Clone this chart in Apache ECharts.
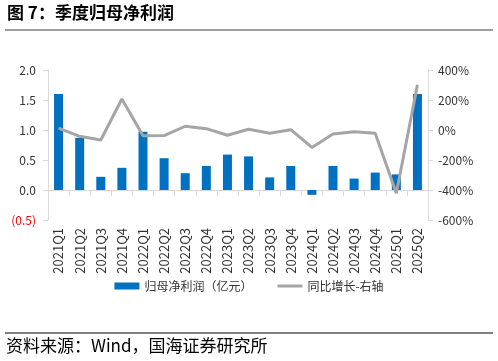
<!DOCTYPE html>
<html>
<head>
<meta charset="utf-8">
<script src="https://cdn.jsdelivr.net/npm/echarts@6/dist/echarts.min.js"></script>
<style>
html,body{margin:0;padding:0;background:#fff;}
#chart{width:498px;height:361px;}
</style>
</head>
<body>
<div id="chart"></div>
<script>
const categories = ['2021Q1','2021Q2','2021Q3','2021Q4','2022Q1','2022Q2','2022Q3','2022Q4','2023Q1','2023Q2','2023Q3','2023Q4','2024Q1','2024Q2','2024Q3','2024Q4','2025Q1','2025Q2'];
const profit = [1.60,0.87,0.22,0.37,0.97,0.53,0.28,0.40,0.59,0.56,0.21,0.40,-0.08,0.40,0.19,0.29,0.26,1.60];
const yoyGrowth = [13,-42,-67,207,-38,-37,25,9,-35,5,-22,2,-116,-27,-11,-22,-422,302];
const leftTicks = {min:-0.5,max:2.0,interval:0.5};
const rightTicks = {min:-600,max:400,interval:200};
const seriesNames = ['归母净利润（亿元）','同比增长-右轴'];

const FONT = '"Noto Sans CJK SC","Noto Sans",sans-serif';
const chart = echarts.init(document.getElementById('chart'));
chart.setOption({
  animation:false,
  textStyle:{fontFamily:FONT},
  grid:{left:48,right:70,top:70,bottom:141,containLabel:false},
  graphic:[
    {type:'text',left:7,top:4,style:{text:'图 7：季度归母净利润',font:'bold 17px '+FONT,fill:'#000'}},
    {type:'line',shape:{x1:5,y1:30,x2:493,y2:30},style:{stroke:'#7f7f7f',lineWidth:1.5}},
    {type:'line',shape:{x1:5,y1:333,x2:493,y2:333},style:{stroke:'#000',lineWidth:1}},
    {type:'text',left:6,top:337,style:{text:'资料来源：Wind，国海证券研究所',font:'17px '+FONT,fill:'#000'}}
  ],
  legend:{
    bottom:64,left:'center',itemGap:25,itemWidth:25,itemHeight:7,
    textStyle:{fontSize:12,color:'#333'},
    data:[
      {name:seriesNames[0],icon:'rect'},
      {name:seriesNames[1],icon:'path://M0 0H100V12H0Z',itemStyle:{color:'#a5a5a5'}}
    ]
  },
  xAxis:{
    type:'category',data:categories,boundaryGap:true,
    axisLine:{onZero:true,onZeroAxisIndex:0,lineStyle:{color:'#d9d9d9',width:1}},
    axisTick:{show:true,alignWithLabel:false,length:6,lineStyle:{color:'#d9d9d9'}},
    axisLabel:{rotate:90,fontSize:13,color:'#333',margin:8,interval:0}
  },
  yAxis:[
    {type:'value',min:leftTicks.min,max:leftTicks.max,interval:leftTicks.interval,
     splitLine:{show:false},
     axisLine:{show:true,lineStyle:{color:'#d9d9d9'}},
     axisTick:{show:true,length:5,lineStyle:{color:'#d9d9d9'}},
     axisLabel:{fontSize:12,margin:12,
       formatter:v=>v<0?'('+Math.abs(v).toFixed(1)+')':v.toFixed(1),
       color:v=>v<0?'#ff0000':'#333'}},
    {type:'value',min:rightTicks.min,max:rightTicks.max,interval:rightTicks.interval,
     splitLine:{show:false},
     axisLine:{show:true,lineStyle:{color:'#d9d9d9'}},
     axisTick:{show:true,length:5,lineStyle:{color:'#d9d9d9'}},
     axisLabel:{fontSize:12,color:'#333',margin:10,formatter:v=>v+'%'}}
  ],
  series:[
    {name:seriesNames[0],type:'bar',data:profit,barWidth:9,yAxisIndex:0,
     itemStyle:{color:'#0070c0'}},
    {name:seriesNames[1],type:'line',data:yoyGrowth,yAxisIndex:1,symbol:'none',
     lineStyle:{color:'#a5a5a5',width:3},itemStyle:{color:'#a5a5a5'}}
  ]
});
</script>
</body>
</html>
